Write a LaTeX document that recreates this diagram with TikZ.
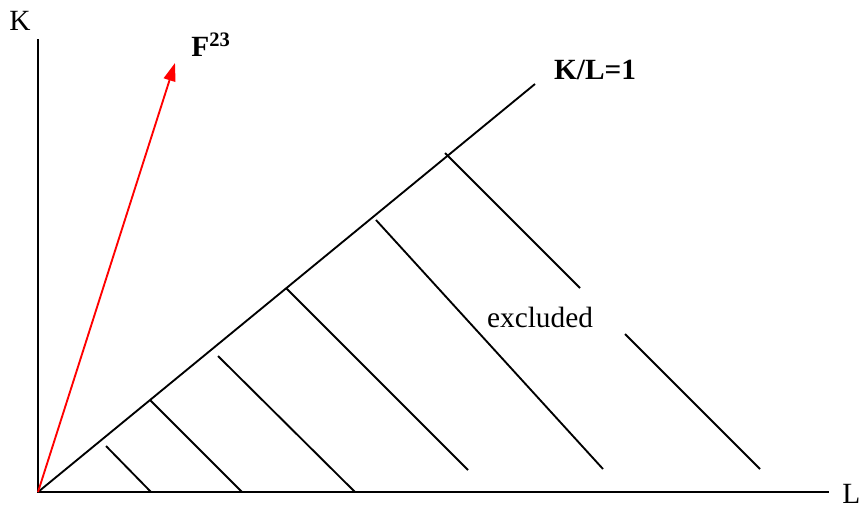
\documentclass[tikz,border=0pt]{standalone}
\usepackage{fontspec}
\setmainfont{Liberation Serif}
\usetikzlibrary{arrows.meta}
\begin{document}
\begin{tikzpicture}[x=0.75pt,y=-0.75pt,
  ax/.style={line width=1.4pt,line cap=rect},
  hatch/.style={line width=1.4pt},
  lbl/.style={inner sep=0pt,font=\fontsize{22}{24}\selectfont},
  blbl/.style={inner sep=0pt,font=\fontsize{22}{24}\selectfont\bfseries}]
\useasboundingbox (0,0) rectangle (867,508);
\coordinate (O) at (38,492);
\coordinate (Ktop) at (38,40);
\coordinate (Lend) at (828,492);
\coordinate (D) at (535,84);
\coordinate (F) at (175,63);
\node[lbl] (K) at (20,21) {K};
\node[lbl,anchor=west] (L) at (842,494) {L};
\node[blbl] (KL) at (595,70) {K/L=1};
\node[blbl] (Flab) at (211,45) {F\textsuperscript{23}};
\node[lbl] (ex) at (540,317) {excluded};
\draw[ax] (Ktop) -- (O) -- (Lend);
\draw[line width=1.4pt] (O) -- (D);
\draw[red,line width=1.4pt,-{Triangle[length=13.5pt,width=9pt]}] (O) -- (F);
% hatch lines
\coordinate (a1) at (106,446); \coordinate (b1) at (151,492);
\coordinate (a2) at (150,400); \coordinate (b2) at (242,492);
\coordinate (a3) at (218,356); \coordinate (b3) at (355,492);
\coordinate (a4) at (286,288); \coordinate (b4) at (468,470);
\coordinate (a5) at (376,220); \coordinate (b5) at (603,469);
\coordinate (a6) at (445,153); \coordinate (b6) at (580,288);
\coordinate (c6) at (625,334); \coordinate (d6) at (760,469);
\draw[hatch] (a1) -- (b1);
\draw[hatch] (a2) -- (b2);
\draw[hatch] (a3) -- (b3);
\draw[hatch] (a4) -- (b4);
\draw[hatch] (a5) -- (b5);
\draw[hatch] (a6) -- (b6);
\draw[hatch] (c6) -- (d6);
\end{tikzpicture}
\end{document}
